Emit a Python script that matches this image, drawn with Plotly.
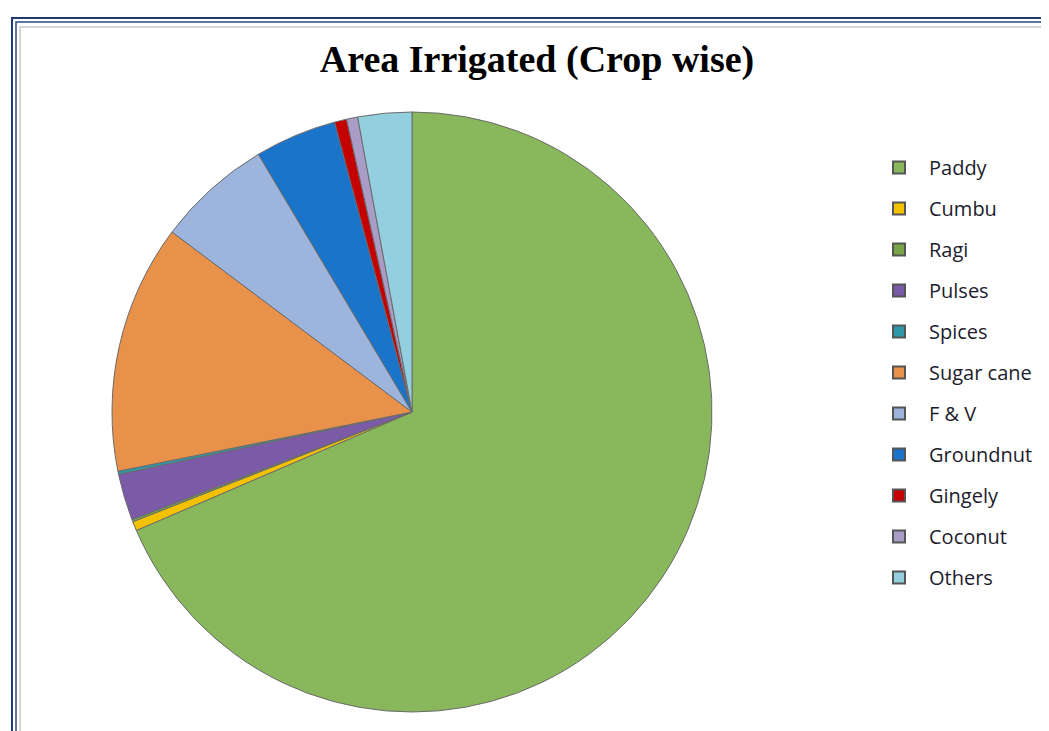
import plotly.graph_objects as go

labels = ["Paddy", "Cumbu", "Ragi", "Pulses", "Spices", "Sugar cane",
          "F & V", "Groundnut", "Gingely", "Coconut", "Others"]
values = [68.5, 0.5, 0.12, 2.5, 0.17, 13.4, 6.2, 4.4, 0.65, 0.6, 2.9]
colors = ["#88b85b", "#f2c200", "#77a447", "#7b5aa8", "#2f98a8", "#e8914a",
          "#9db4dc", "#1a74c9", "#c40000", "#a99cc6", "#93cfdf"]
title_text = "Area Irrigated (Crop wise)"

W, H = 1049, 731

fig = go.Figure()
fig.add_trace(go.Pie(
    labels=labels, values=values, sort=False, direction="clockwise",
    rotation=0, textinfo="none", hoverinfo="label+percent",
    marker=dict(colors=colors, line=dict(color="#6b6b6b", width=1)),
    domain=dict(x=[102 / W, 706 / W], y=[1 - 704 / H, 1 - 104 / H]),
    showlegend=False,
))

# legend entries built from the same labels/colors
for lab, col in zip(labels, colors):
    fig.add_trace(go.Scatter(
        x=[None], y=[None], mode="markers", name=lab, legendgroup=lab,
        marker=dict(symbol="square", size=12, color=col,
                    line=dict(color="#555555", width=0.5)),
        showlegend=True, hoverinfo="skip",
    ))

shapes = [
    # outer double navy frame
    dict(type="rect", xref="paper", yref="paper", x0=4 / W, x1=1.02, y0=-0.02, y1=1 - 10 / H,
         line=dict(color="#1f3a73", width=2), fillcolor="rgba(0,0,0,0)", layer="above"),
    dict(type="rect", xref="paper", yref="paper", x0=8 / W, x1=1.02, y0=-0.02, y1=1 - 14 / H,
         line=dict(color="#2b4a85", width=1.5), fillcolor="rgba(0,0,0,0)", layer="above"),
    # inner light gray frame
    dict(type="rect", xref="paper", yref="paper", x0=12 / W, x1=1 - 4 / W, y0=1 - 724 / H, y1=1 - 19 / H,
         line=dict(color="#c8c8c8", width=1.5), fillcolor="rgba(0,0,0,0)", layer="below"),
]

fig.update_layout(
    width=W, height=H,
    margin=dict(l=0, r=0, t=0, b=0),
    paper_bgcolor="white", plot_bgcolor="white",
    title=dict(text="<b>" + title_text + "</b>", x=529 / W, xanchor="center",
               y=1 - 51 / H, yanchor="middle",
               font=dict(family="Liberation Serif", size=38, color="#000000")),
    xaxis=dict(visible=False), yaxis=dict(visible=False),
    legend=dict(x=861 / W, xanchor="left", y=1 - 140 / H, yanchor="top",
                font=dict(family="Open Sans", size=20, color="#1c1c2c"),
                tracegroupgap=12, itemsizing="constant", itemwidth=50,
                bgcolor="rgba(0,0,0,0)"),
    shapes=shapes,
)

fig.write_html("out.html")
